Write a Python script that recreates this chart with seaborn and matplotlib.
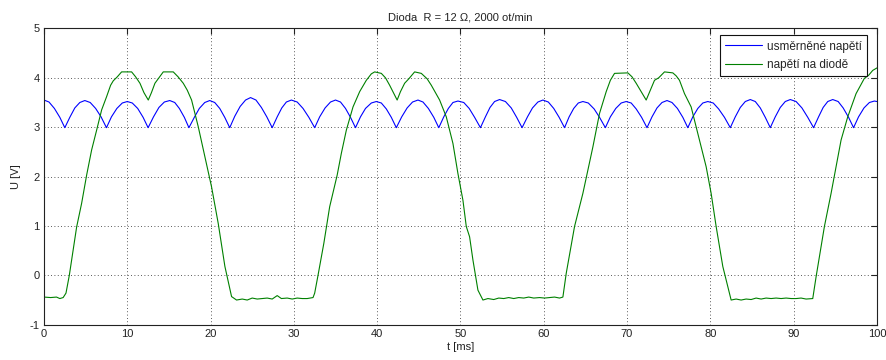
import matplotlib
matplotlib.use("Agg")
import matplotlib.pyplot as plt
import seaborn as sns
import pandas as pd

# ---- data ----
blue_t = [0, 0.6, 1.25, 1.9, 2.5,
          3.1, 3.7, 4.3, 4.9, 5.55, 6.2, 6.85, 7.5,
          8.1, 8.75, 9.4, 10.0, 10.6, 11.25, 11.9, 12.5,
          13.15, 13.8, 14.45, 15.1, 15.7, 16.25, 16.85, 17.4,
          18.05, 18.65, 19.3, 19.9, 20.5, 21.1, 21.7, 22.3,
          22.9, 23.55, 24.2, 24.8, 25.45, 26.1, 26.75, 27.4,
          28.0, 28.55, 29.1, 29.7, 30.4, 31.1, 31.8, 32.5,
          33.1, 33.75, 34.4, 35.0, 35.6, 36.2, 36.8, 37.4,
          38.0, 38.6, 39.3, 39.9, 40.5, 41.1, 41.7, 42.3,
          42.95, 43.6, 44.25, 44.9, 45.5, 46.15, 46.8, 47.4,
          48.0, 48.55, 49.1, 49.7, 50.4, 51.05, 51.7, 52.4,
          53.0, 53.55, 54.1, 54.7, 55.4, 56.1, 56.75, 57.4,
          58.05, 58.65, 59.3, 59.9, 60.55, 61.2, 61.85, 62.5,
          63.05, 63.6, 64.15, 64.7, 65.35, 66.05, 66.7, 67.4,
          68.0, 68.65, 69.3, 69.9, 70.5, 71.1, 71.75, 72.4,
          73.0, 73.6, 74.2, 74.8, 75.4, 76.05, 76.7, 77.3,
          77.9, 78.5, 79.1, 79.7, 80.35, 81.0, 81.7, 82.4,
          83.0, 83.6, 84.2, 84.8, 85.4, 86.0, 86.6, 87.2,
          87.8, 88.4, 89.0, 89.6, 90.3, 91.0, 91.7, 92.4,
          93.0, 93.55, 94.1, 94.7, 95.35, 95.95, 96.6, 97.2,
          97.8, 98.45, 99.1, 99.7, 100.0]
blue_v = [3.55, 3.51, 3.38, 3.20, 2.99,
          3.20, 3.39, 3.50, 3.54, 3.50, 3.38, 3.21, 2.99,
          3.21, 3.38, 3.49, 3.52, 3.49, 3.38, 3.20, 2.99,
          3.21, 3.40, 3.51, 3.54, 3.50, 3.38, 3.20, 2.99,
          3.20, 3.38, 3.50, 3.54, 3.50, 3.38, 3.20, 2.99,
          3.22, 3.42, 3.55, 3.60, 3.55, 3.40, 3.21, 2.99,
          3.21, 3.39, 3.51, 3.55, 3.51, 3.38, 3.20, 2.99,
          3.21, 3.39, 3.51, 3.55, 3.51, 3.38, 3.20, 2.99,
          3.21, 3.38, 3.49, 3.52, 3.49, 3.37, 3.20, 2.99,
          3.21, 3.39, 3.51, 3.55, 3.51, 3.38, 3.20, 2.99,
          3.21, 3.38, 3.50, 3.53, 3.50, 3.38, 3.20, 2.99,
          3.21, 3.40, 3.52, 3.56, 3.52, 3.39, 3.20, 2.99,
          3.21, 3.39, 3.51, 3.55, 3.51, 3.38, 3.20, 2.99,
          3.21, 3.38, 3.49, 3.52, 3.49, 3.37, 3.20, 2.99,
          3.21, 3.38, 3.49, 3.52, 3.49, 3.37, 3.20, 2.99,
          3.21, 3.39, 3.50, 3.54, 3.50, 3.38, 3.20, 2.99,
          3.21, 3.38, 3.49, 3.52, 3.49, 3.37, 3.20, 2.99,
          3.21, 3.40, 3.52, 3.56, 3.52, 3.39, 3.20, 2.99,
          3.21, 3.40, 3.52, 3.56, 3.52, 3.39, 3.20, 2.99,
          3.21, 3.40, 3.52, 3.56, 3.52, 3.39, 3.20, 2.99,
          3.21, 3.39, 3.50, 3.53, 3.52]

green_t = [0, 0.8, 1.5, 1.9, 2.3, 2.64, 3.04, 3.92, 4.52, 5.12, 5.72, 6.32,
           6.92, 7.52, 8.0, 8.32, 8.8, 9.32, 10.52, 11.0, 11.52, 12.0, 12.52,
           12.9, 13.32, 13.8, 14.32, 15.52, 16.1, 16.72, 17.2, 17.72, 18.52,
           19.32, 20.12, 20.92, 21.72, 22.52, 23.12, 23.8, 24.4, 25.0, 25.6,
           26.2, 26.8, 27.4, 28.0, 28.5, 29.2, 29.8, 30.4, 31.0, 31.6, 32.3,
           32.5, 32.9, 33.6, 34.3, 35.2, 35.7, 36.3, 37.1, 37.9, 38.7, 39.3,
           39.7, 40.5, 41.0, 41.5, 42.4, 42.8, 43.3, 43.8, 44.5, 45.3, 46.0,
           46.5, 47.5, 48.3, 49.1, 49.7, 50.3, 50.7, 51.1, 51.5, 52.1, 52.7,
           53.3, 54.0, 54.6, 55.2, 55.8, 56.4, 57.0, 57.6, 58.2, 58.8, 59.5,
           60.1, 60.7, 61.3, 61.9, 62.3, 62.7, 63.7, 64.7, 65.3, 65.9, 66.7,
           67.5, 68.0, 68.5, 70.1, 70.6, 71.1, 71.7, 72.3, 72.8, 73.3, 73.8,
           74.5, 75.5, 75.9, 76.3, 76.9, 77.7, 78.5, 79.5, 80.1, 80.7, 81.5,
           82.5, 83.1, 83.7, 84.3, 84.9, 85.5, 86.1, 86.7, 87.3, 87.9, 88.5,
           89.1, 89.7, 90.3, 90.9, 91.5, 92.3, 92.7, 93.7, 94.5, 95.1, 95.7,
           96.5, 97.5, 98.5, 99.0, 99.5, 100.0]
green_v = [-0.44, -0.45, -0.44, -0.47, -0.45, -0.36, 0.00, 0.98, 1.46, 2.03,
           2.54, 2.94, 3.35, 3.62, 3.85, 3.94, 4.02, 4.12, 4.12, 4.02, 3.89,
           3.70, 3.55, 3.70, 3.89, 4.00, 4.12, 4.12, 4.02, 3.89, 3.75, 3.55,
           3.01, 2.40, 1.79, 1.05, 0.18, -0.43, -0.50, -0.48, -0.50, -0.46,
           -0.48, -0.47, -0.46, -0.48, -0.41, -0.47, -0.46, -0.48, -0.46,
           -0.47, -0.47, -0.45, -0.36, 0.00, 0.65, 1.39, 2.03, 2.47, 2.94,
           3.41, 3.72, 3.95, 4.08, 4.12, 4.09, 4.00, 3.85, 3.55, 3.72, 3.89,
           3.98, 4.12, 4.09, 3.98, 3.85, 3.55, 3.21, 2.67, 2.06, 1.52, 0.99,
           0.78, 0.31, -0.30, -0.50, -0.47, -0.49, -0.46, -0.47, -0.45, -0.47,
           -0.45, -0.46, -0.44, -0.46, -0.45, -0.46, -0.45, -0.44, -0.46,
           -0.44, 0.04, 0.99, 1.66, 2.13, 2.60, 3.28, 3.72, 3.95, 4.09, 4.10,
           4.02, 3.89, 3.72, 3.55, 3.75, 3.95, 4.00, 4.12, 4.10, 4.04, 3.95,
           3.68, 3.41, 2.87, 2.20, 1.66, 0.99, 0.18, -0.50, -0.48, -0.50,
           -0.48, -0.49, -0.46, -0.48, -0.46, -0.47, -0.46, -0.47, -0.46,
           -0.47, -0.47, -0.46, -0.48, -0.47, -0.03, 0.99, 1.66, 2.20, 2.74,
           3.21, 3.68, 3.99, 4.05, 4.15, 4.20]

labels = ["usměrněné napětí", "napětí na diodě"]
colors = ["#0000ff", "#008000"]
title = "Dioda  R = 12 \u03a9, 2000 ot/min"
xlabel = "t [ms]"
ylabel = "U [V]"
xticks = [0, 10, 20, 30, 40, 50, 60, 70, 80, 90, 100]
yticks = [-1, 0, 1, 2, 3, 4, 5]

df = pd.concat([
    pd.DataFrame({"t": blue_t, "U": blue_v, "s": labels[0]}),
    pd.DataFrame({"t": green_t, "U": green_v, "s": labels[1]}),
])

sns.set_style("white")
plt.rcParams["font.family"] = ["Liberation Sans", "DejaVu Sans"]
plt.rcParams["axes.unicode_minus"] = False

fig = plt.figure(figsize=(8.87, 3.6), dpi=100)
ax = fig.add_axes([0.0496, 0.098, 0.939, 0.823])
sns.lineplot(data=df, x="t", y="U", hue="s", palette=colors, sort=False,
             estimator=None, linewidth=0.8, ax=ax)

ax.set_xlim(0, 100)
ax.set_ylim(-1, 5)
ax.set_xticks(xticks)
ax.set_yticks(yticks)
ax.grid(True, color="#222222", linestyle=(0, (1, 3)), linewidth=0.6)
ax.tick_params(direction="in", length=4, width=0.8, labelsize=8,
               top=True, right=True, colors="#222222", labelcolor="#222222",
               pad=3)
for sp in ax.spines.values():
    sp.set_color("#222222")
    sp.set_linewidth(0.8)
ax.set_title(title, fontsize=8, pad=6, color="#222222")
ax.set_xlabel(xlabel, fontsize=8, labelpad=2, color="#222222")
ax.set_ylabel(ylabel, fontsize=8, labelpad=6, color="#222222")

leg = ax.legend(loc="upper right", bbox_to_anchor=(0.988, 0.977),
                fontsize=8.5, frameon=True, fancybox=False,
                edgecolor="#111111", framealpha=1, handlelength=3.1,
                borderaxespad=0, borderpad=0.45, labelspacing=0.55,
                handletextpad=0.4)
leg.get_frame().set_linewidth(0.8)

fig.savefig("out.png", dpi=100)
